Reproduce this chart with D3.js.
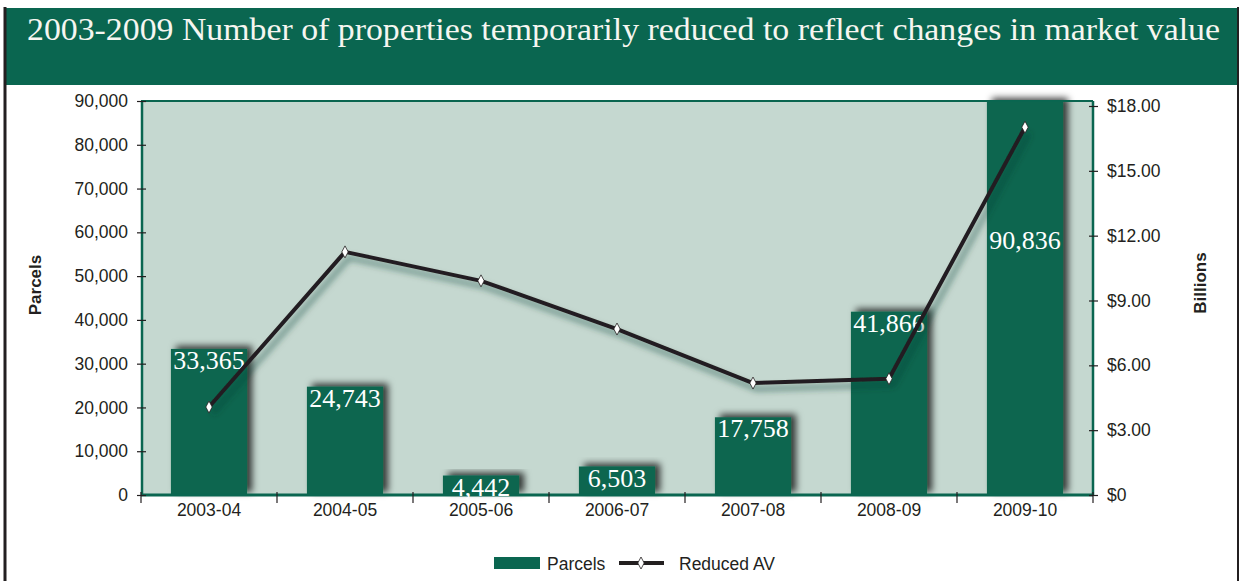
<!DOCTYPE html>
<html>
<head>
<meta charset="utf-8">
<script src="https://cdn.jsdelivr.net/npm/d3@7"></script>
<style>
  body { margin: 0; background: #fff; }
  svg { display: block; }
  text { font-family: "Liberation Sans", Arial, sans-serif; fill: #231f20; }
</style>
</head>
<body>
<script>
// chart data
var categories = ["2003-04", "2004-05", "2005-06", "2006-07", "2007-08", "2008-09", "2009-10"];
var parcels = [33365, 24743, 4442, 6503, 17758, 41866, 90836];
var reducedAV = [4.07, 11.25, 9.91, 7.68, 5.18, 5.38, 17.02];   // billions
var parcelTicks = [0, 10000, 20000, 30000, 40000, 50000, 60000, 70000, 80000, 90000];
var avTicks = [0, 3, 6, 9, 12, 15, 18];
var titleText = "2003-2009 Number of properties temporarily reduced to reflect changes in market value";

var green = "#0a6650",
    plotBg = "#c5d8d0",
    ink = "#231f20";

var W = 1240, H = 581;
var plot = {left: 141, right: 1093, top: 101, bottom: 495};

var svg = d3.select("body").append("svg")
    .attr("width", W)
    .attr("height", H);

var defs = svg.append("defs");

// shadow for the bars (up and to the right)
var barShadow = defs.append("filter").attr("id", "barShadow")
    .attr("x", "-30%").attr("y", "-30%").attr("width", "160%").attr("height", "160%");
barShadow.append("feDropShadow")
    .attr("dx", 5).attr("dy", -3).attr("stdDeviation", 3.5)
    .attr("flood-color", "#000").attr("flood-opacity", 0.75);

// shadow for the line (down and to the right)
var lineShadow = defs.append("filter").attr("id", "lineShadow")
    .attr("x", "-10%").attr("y", "-10%").attr("width", "120%").attr("height", "130%");
lineShadow.append("feDropShadow")
    .attr("dx", 4).attr("dy", 6).attr("stdDeviation", 3)
    .attr("flood-color", "#0b3b2f").attr("flood-opacity", 0.55);

// frame + header
svg.append("rect")
    .attr("x", 5).attr("y", 8)
    .attr("width", 1233).attr("height", 77)
    .attr("fill", green);
svg.append("line").attr("x1", 5).attr("x2", 5).attr("y1", 7).attr("y2", H)
    .attr("stroke", ink).attr("stroke-width", 3);
svg.append("line").attr("x1", 1238).attr("x2", 1238).attr("y1", 7).attr("y2", H)
    .attr("stroke", ink).attr("stroke-width", 2);

svg.append("text")
    .attr("x", 27).attr("y", 40)
    .attr("textLength", 1193)
    .attr("lengthAdjust", "spacingAndGlyphs")
    .style("font-family", "'Liberation Serif', 'Times New Roman', serif")
    .style("font-size", "32px")
    .style("fill", "#f6f6f0")
    .text(titleText);

// scales
var x = d3.scaleBand()
    .domain(categories)
    .range([plot.left, plot.right])
    .paddingInner(0.44)
    .paddingOuter(0.22);

var yL = d3.scaleLinear().domain([0, 90000]).range([plot.bottom, plot.top]);
var yR = d3.scaleLinear().domain([0, 18]).range([plot.bottom, 106]);

// plot background
svg.append("rect")
    .attr("x", plot.left).attr("y", plot.top)
    .attr("width", plot.right - plot.left)
    .attr("height", plot.bottom - plot.top)
    .attr("fill", plotBg);

// bars
var bars = categories.map(function (c, i) {
    return {cat: c, value: parcels[i]};
});

svg.append("g").selectAll("rect")
    .data(bars)
    .enter().append("rect")
    .attr("x", function (d) { return x(d.cat); })
    .attr("width", x.bandwidth())
    .attr("y", function (d) { return yL(Math.min(d.value, 90000)); })
    .attr("height", function (d) { return plot.bottom - yL(Math.min(d.value, 90000)); })
    .attr("fill", green)
    .attr("filter", "url(#barShadow)");

// plot frame lines (green)
svg.append("line").attr("x1", plot.left).attr("x2", plot.right)
    .attr("y1", plot.top).attr("y2", plot.top)
    .attr("stroke", green).attr("stroke-width", 2);
svg.append("line").attr("x1", plot.left + 1).attr("x2", plot.left + 1)
    .attr("y1", plot.top).attr("y2", plot.bottom)
    .attr("stroke", green).attr("stroke-width", 2.5);
svg.append("line").attr("x1", plot.right).attr("x2", plot.right)
    .attr("y1", plot.top).attr("y2", plot.bottom)
    .attr("stroke", green).attr("stroke-width", 2.5);
svg.append("line").attr("x1", plot.left).attr("x2", plot.right)
    .attr("y1", plot.bottom).attr("y2", plot.bottom)
    .attr("stroke", green).attr("stroke-width", 3);

// bar value labels
svg.append("g").selectAll("text")
    .data(bars)
    .enter().append("text")
    .attr("x", function (d) { return x(d.cat) + x.bandwidth() / 2; })
    .attr("y", function (d) {
        // clipped bar: label sits lower down inside the bar
        return d.value > 90000 ? plot.top + 148 : yL(d.value) + 20;
    })
    .attr("text-anchor", "middle")
    .style("font-family", "'Liberation Serif', 'Times New Roman', serif")
    .style("font-size", "26px")
    .style("fill", "#fff")
    .text(function (d) { return d3.format(",")(d.value); });

// line series
var pts = categories.map(function (c, i) {
    return {cat: c, value: reducedAV[i]};
});
var line = d3.line()
    .x(function (d) { return x(d.cat) + x.bandwidth() / 2; })
    .y(function (d) { return yR(d.value); });

svg.append("path")
    .datum(pts)
    .attr("d", line)
    .attr("fill", "none")
    .attr("stroke", ink)
    .attr("stroke-width", 4)
    .attr("stroke-linejoin", "round")
    .attr("filter", "url(#lineShadow)");

var diamond = "M0,-6L3.2,0L0,6L-3.2,0Z";
svg.append("g").selectAll("path")
    .data(pts)
    .enter().append("path")
    .attr("d", diamond)
    .attr("transform", function (d) {
        return "translate(" + (x(d.cat) + x.bandwidth() / 2) + "," + yR(d.value) + ")";
    })
    .attr("fill", "#fff")
    .attr("stroke", ink)
    .attr("stroke-width", 0.8);

// left axis
var leftAxis = svg.append("g")
    .attr("transform", "translate(" + plot.left + ",0)")
    .call(d3.axisLeft(yL).tickValues(parcelTicks).tickFormat(d3.format(",")).tickSize(0).tickPadding(13));
leftAxis.select(".domain").remove();
leftAxis.selectAll("text").style("font-size", "17.5px").style("fill", ink)
    .style("font-family", "'Liberation Sans', Arial, sans-serif");
leftAxis.selectAll(".tick").append("line")
    .attr("x1", -4).attr("x2", 5).attr("stroke", ink).attr("stroke-width", 1.2);

// right axis
var rightAxis = svg.append("g")
    .attr("transform", "translate(" + plot.right + ",0)")
    .call(d3.axisRight(yR).tickValues(avTicks)
        .tickFormat(function (d) { return d === 0 ? "$0" : "$" + d3.format(".2f")(d); })
        .tickSize(0).tickPadding(14));
rightAxis.select(".domain").remove();
rightAxis.selectAll("text").style("font-size", "17.5px").style("fill", ink)
    .style("font-family", "'Liberation Sans', Arial, sans-serif");
rightAxis.selectAll(".tick").append("line")
    .attr("x1", -4).attr("x2", 5).attr("stroke", ink).attr("stroke-width", 1.2);

// bottom axis: category labels + ticks at band boundaries
var bottomAxis = svg.append("g")
    .attr("transform", "translate(0," + plot.bottom + ")")
    .call(d3.axisBottom(x).tickSize(0).tickPadding(9));
bottomAxis.select(".domain").remove();
bottomAxis.selectAll("text").style("font-size", "17.5px").style("fill", ink)
    .style("font-family", "'Liberation Sans', Arial, sans-serif");

svg.append("g").selectAll("line")
    .data(d3.range(categories.length + 1))
    .enter().append("line")
    .attr("x1", function (i) { return plot.left + i * x.step(); })
    .attr("x2", function (i) { return plot.left + i * x.step(); })
    .attr("y1", plot.bottom - 3)
    .attr("y2", plot.bottom + 8)
    .attr("stroke", ink)
    .attr("stroke-width", 1.2);

// axis titles
svg.append("text")
    .attr("transform", "translate(41,285) rotate(-90)")
    .attr("text-anchor", "middle")
    .style("font-size", "17px")
    .style("font-weight", "bold")
    .text("Parcels");

svg.append("text")
    .attr("transform", "translate(1206,283) rotate(-90)")
    .attr("text-anchor", "middle")
    .style("font-size", "17px")
    .style("font-weight", "bold")
    .text("Billions");

// legend
var legend = svg.append("g").attr("transform", "translate(0,563)");
legend.append("rect")
    .attr("x", 494).attr("y", -6)
    .attr("width", 46).attr("height", 12)
    .attr("fill", green);
legend.append("text")
    .attr("x", 547).attr("y", 6.5)
    .style("font-size", "17.5px")
    .text("Parcels");
legend.append("line")
    .attr("x1", 619).attr("x2", 664)
    .attr("y1", 0).attr("y2", 0)
    .attr("stroke", ink).attr("stroke-width", 4);
legend.append("path")
    .attr("d", diamond)
    .attr("transform", "translate(641,0)")
    .attr("fill", "#fff")
    .attr("stroke", ink)
    .attr("stroke-width", 0.8);
legend.append("text")
    .attr("x", 679).attr("y", 6.5)
    .style("font-size", "17.5px")
    .text("Reduced AV");
</script>
</body>
</html>
